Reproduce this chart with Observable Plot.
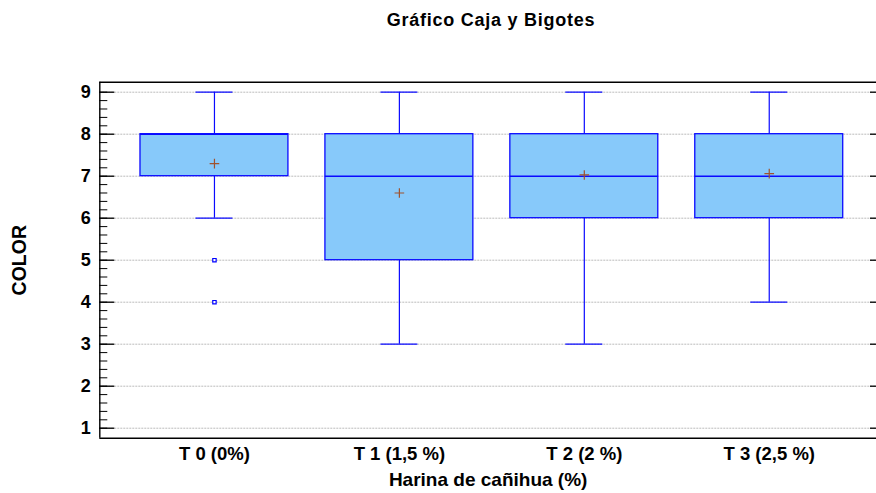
<!DOCTYPE html>
<html><head><meta charset="utf-8">
<script src="https://cdn.jsdelivr.net/npm/d3@7"></script>
<script src="https://cdn.jsdelivr.net/npm/@observablehq/plot@0.6"></script>
<style>
body{margin:0;background:#fff;font-family:"Liberation Sans",Arial,sans-serif;overflow:hidden;}
#title{height:40px;line-height:41px;margin-left:99px;width:784px;text-align:center;font-weight:bold;font-size:18px;letter-spacing:0.75px;color:#000;}
</style></head><body>
<div id="title">Gráfico Caja y Bigotes</div>
<div id="chart"></div>
<script>
const categories = ["T 0 (0%)", "T 1 (1,5 %)", "T 2 (2 %)", "T 3 (2,5 %)"];
const whiskerLow = [6, 3, 3, 4];
const q1 = [7, 5, 6, 6];
const median = [8, 7, 7, 7];
const q3 = [8, 8, 8, 8];
const whiskerHigh = [9, 9, 9, 9];
const means = [7.3, 6.6, 7.03, 7.06];
const outlierGroup = [0, 0];
const outlierValue = [5, 4];
const yTicks = [1, 2, 3, 4, 5, 6, 7, 8, 9];
const yMinorTicks = d3.range(5, 46).map(v => v / 5);
const xLabel = "Harina de cañihua (%)";
const yLabel = "COLOR";

const idx = categories.map((_, i) => i);
const oIdx = outlierValue.map((_, i) => i);
const half = 0.4, cap = 0.1;
const boxStroke = "#0a0aff";

const chart = Plot.plot({
  width: 876,
  height: 453,
  marginLeft: 99.3,
  marginRight: 0,
  marginTop: 41.7,
  marginBottom: 55.3,
  style: {fontFamily: "'Liberation Sans', Arial, sans-serif", fontSize: "18px", fontWeight: "bold", color: "#000", background: "#fff"},
  x: {domain: [-0.62, 3.58]},
  y: {domain: [0.762, 9.238]},
  marks: [
    Plot.ruleY(yTicks, {stroke: "#bbb", strokeDasharray: "2,1", strokeWidth: 1}),
    Plot.ruleY([0.762, 9.238], {stroke: "#000", strokeWidth: 1.4}),
    Plot.ruleX([-0.62], {stroke: "#000", strokeWidth: 1.4}),
    Plot.axisY({ticks: yMinorTicks, tickSize: -8, text: null, stroke: "#000"}),
    Plot.axisY({ticks: yTicks, tickSize: -15, text: null, stroke: "#000", strokeWidth: 1.3}),
    Plot.axisY({ticks: yTicks, tickSize: 0, tickPadding: 9, label: null, fontSize: 18, fontWeight: "bold", style: "letter-spacing:0.8px"}),
    Plot.axisY({ticks: yTicks, anchor: "right", tickSize: -7, text: null, label: null, stroke: "#000", strokeWidth: 1.3}),
    Plot.axisX({ticks: idx, tickFormat: i => categories[i], tickSize: 0, tickPadding: 9, label: null, fontSize: 18.5, fontWeight: "bold", style: "letter-spacing:1.1px"}),
    Plot.ruleX(idx, {x: i => i, y1: i => q3[i], y2: i => whiskerHigh[i], stroke: boxStroke, strokeWidth: 1.2}),
    Plot.ruleX(idx, {x: i => i, y1: i => whiskerLow[i], y2: i => q1[i], stroke: boxStroke, strokeWidth: 1.2}),
    Plot.ruleY(idx, {y: i => whiskerHigh[i], x1: i => i - cap, x2: i => i + cap, stroke: boxStroke, strokeWidth: 1.2}),
    Plot.ruleY(idx, {y: i => whiskerLow[i], x1: i => i - cap, x2: i => i + cap, stroke: boxStroke, strokeWidth: 1.2}),
    Plot.rect(idx, {x1: i => i - half, x2: i => i + half, y1: i => q1[i], y2: i => q3[i], fill: "#87c9fa", stroke: boxStroke, strokeWidth: 1.3}),
    Plot.ruleY(idx, {y: i => median[i], x1: i => i - half, x2: i => i + half, stroke: boxStroke, strokeWidth: 1.5}),
    Plot.dot(idx, {x: i => i, y: i => means[i], symbol: "plus", r: 3.2, stroke: "#a0522d", strokeWidth: 1.2}),
    Plot.dot(oIdx, {x: i => outlierGroup[i], y: i => outlierValue[i], symbol: "square", r: 1.9, stroke: "blue", fill: "#fff", strokeWidth: 1.2}),
    Plot.text([xLabel], {frameAnchor: "bottom", dy: 42, text: d => d, fontSize: 19, fontWeight: "bold", lineAnchor: "middle", textAnchor: "middle", style: "letter-spacing:0.95px"}),
    Plot.text([yLabel], {frameAnchor: "left", dx: -79.6, rotate: -90, text: d => d, fontSize: 19.5, fontWeight: "bold", lineAnchor: "middle", textAnchor: "middle"})
  ]
});
document.getElementById("chart").appendChild(chart);
</script>
</body></html>
